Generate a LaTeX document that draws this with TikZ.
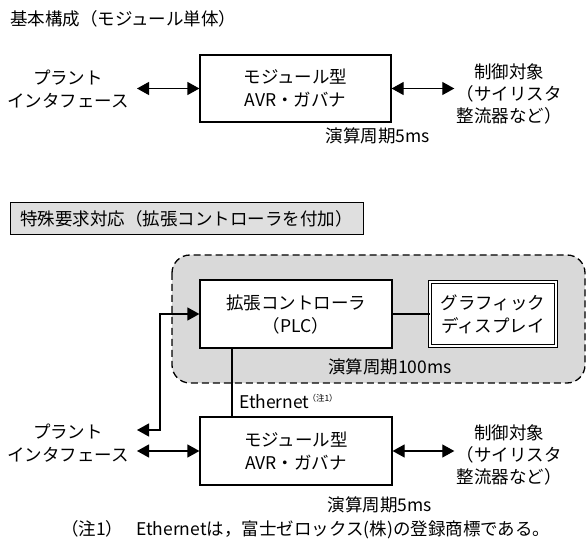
\documentclass[tikz,border=0pt]{standalone}
\usepackage{fontspec}
\setmainfont{Noto Sans CJK JP}
\usetikzlibrary{arrows.meta}
\begin{document}
\begin{tikzpicture}[x=1pt,y=-1pt,
  every node/.style={font=\fontsize{17.5}{23}\selectfont, inner sep=0pt},
  blk/.style={draw, line width=1.2pt, minimum width=#1, minimum height=68pt, align=center},
  lbl/.style={align=center},
  plantlbl/.style={align=center, inner xsep=8pt},
  ctrllbl/.style={align=center, inner xsep=2pt, font=\fontsize{17.5}{22}\selectfont},
  conn/.style={line width=1.2pt},
  biarr/.style={conn, {Triangle[length=12pt,width=13pt]}-{Triangle[length=12pt,width=13pt]}},
]
\useasboundingbox (0,0) rectangle (587,540);

% ---------- top section ----------
\node[anchor=west] (title1) at (10,19) {基本構成（モジュール単体）};
\node[blk=191pt, minimum height=67pt] (box1) at (295.5,88.5) {モジュール型\\AVR・ガバナ};
\node[plantlbl] (plant1) at (68,89) {プラント\\インタフェース};
\node[ctrllbl] (ctrl1) at (509,93.5) {制御対象\\（サイリスタ\\整流器など）};
\node[lbl] (per1) at (378,136) {演算周期5ms};
\draw[biarr] (plant1.east |- box1.west) -- (box1.west);
\draw[biarr] (box1.east) -- (box1.east -| ctrl1.west);

% ---------- middle section ----------
\node[draw, line width=1pt, fill=gray!25, minimum width=353pt, minimum height=32pt] (title2) at (186.5,219) {特殊要求対応（拡張コントローラを付加）};

\draw[line width=1.3pt, dash pattern=on 7pt off 4pt, fill=gray!30, rounded corners=18pt] (172,255) rectangle (585,383);

\node[blk=192pt, fill=white] (plc) at (296,314) {拡張コントローラ\\（PLC）};
\node[draw, line width=0.9pt, double, double distance=2.2pt, minimum width=126pt, minimum height=64pt, align=center, fill=white] (disp) at (493,314) {グラフィック\\ディスプレイ};
\draw[conn] (plc.east) -- (disp.west);
\node[lbl] (per100) at (390,367) {演算周期100ms};

% ---------- lower section ----------
\node[blk=192pt] (box2) at (296,451) {モジュール型\\AVR・ガバナ};
\node[plantlbl] (plant2) at (68,443) {プラント\\インタフェース};
\node[ctrllbl] (ctrl2) at (509,455) {制御対象\\（サイリスタ\\整流器など）};
\node[lbl] (per2) at (380,505) {演算周期5ms};

\coordinate (eth) at (232,0);
\draw[conn] (plc.south -| eth) -- (box2.north -| eth);
\node[anchor=base west] (ethl) at (239,409) {Ethernet\hspace{-2pt}\raisebox{8pt}{\fontsize{8.5}{8.5}\selectfont （注1）}};

\coordinate (elb) at (160,430);
\draw[biarr] (plant2.east |- elb) -- (elb) |- (plc.west);
\draw[biarr] (plant2.east |- box2.west) -- (box2.west);
\draw[biarr] (box2.east) -- (box2.east -| ctrl2.west);

\node[anchor=west] (foot) at (61,530) {（注1）\hspace{13pt}Ethernetは，富士ゼロックス(株)の登録商標である。};
\end{tikzpicture}
\end{document}
